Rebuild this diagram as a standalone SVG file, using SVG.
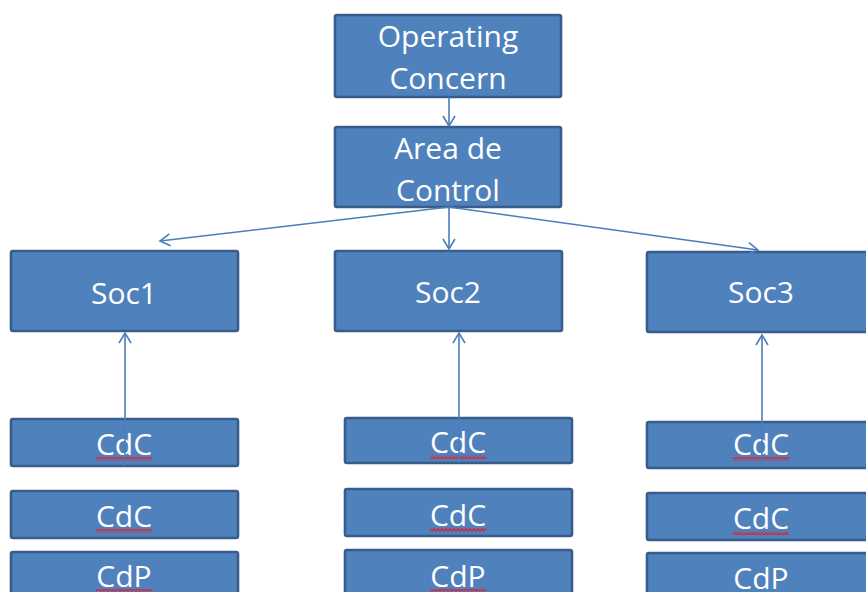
<svg xmlns="http://www.w3.org/2000/svg" width="866" height="592" viewBox="0 0 866 592">
  <style>
    .box { fill: #4F81BD; stroke: #385D8A; stroke-width: 2.6; }
    .lbl { fill: #FFFFFF; font-family: "Open Sans", "Liberation Sans", sans-serif; font-size: 30px; text-anchor: middle; }
    .link { fill: none; stroke: #4A7EBB; stroke-width: 1.6; marker-end: url(#arrow); }
    .squiggle { fill: url(#wave); }
  </style>
  <defs>
    <marker id="arrow" viewBox="-12 -7 14 14" refX="0" refY="0" markerWidth="14" markerHeight="14" markerUnits="userSpaceOnUse" orient="auto">
      <path d="M -10,-6 L 0,0 L -10,6" fill="none" stroke="#4A7EBB" stroke-width="1.6"/>
    </marker>
    <!-- red zigzag used as a spell-check underline -->
    <pattern id="wave" patternUnits="userSpaceOnUse" width="4" height="4">
      <path d="M0,3.2 L2,0.8 L4,3.2" fill="none" stroke="#D42A3E" stroke-width="1.5"/>
    </pattern>
  </defs>

  <rect width="866" height="592" fill="#FFFFFF"/>

  <!-- top of the hierarchy -->
  <g id="operating-concern">
    <rect class="box" x="335" y="15" width="226" height="82" rx="2"/>
    <text class="lbl" x="448" y="47">Operating</text>
    <text class="lbl" x="448" y="89">Concern</text>
  </g>
  <g id="area-de-control">
    <rect class="box" x="335" y="127" width="226" height="80" rx="2"/>
    <text class="lbl" x="448" y="159">Area de</text>
    <text class="lbl" x="448" y="201">Control</text>
  </g>

  <!-- company codes -->
  <g id="soc1">
    <rect class="box" x="11" y="251" width="227" height="80" rx="2"/>
    <text class="lbl" x="124" y="304">Soc1</text>
  </g>
  <g id="soc2">
    <rect class="box" x="335" y="251" width="227" height="80" rx="2"/>
    <text class="lbl" x="448" y="303">Soc2</text>
  </g>
  <g id="soc3">
    <rect class="box" x="647" y="252" width="228" height="80" rx="2"/>
    <text class="lbl" x="761" y="303">Soc3</text>
  </g>

  <!-- column 1 -->
  <g id="cdc-1a">
    <rect class="box" x="11" y="419" width="227" height="47" rx="2"/>
    <text class="lbl" x="124" y="455">CdC</text>
    <rect class="squiggle" x="96" y="457" width="56" height="4"/>
  </g>
  <g id="cdc-1b">
    <rect class="box" x="11" y="491" width="227" height="47" rx="2"/>
    <text class="lbl" x="124" y="527">CdC</text>
    <rect class="squiggle" x="96" y="529" width="56" height="4"/>
  </g>
  <g id="cdp-1">
    <rect class="box" x="11" y="552" width="227" height="47" rx="2"/>
    <text class="lbl" x="124" y="587">CdP</text>
    <rect class="squiggle" x="96" y="589" width="56" height="4"/>
  </g>

  <!-- column 2 -->
  <g id="cdc-2a">
    <rect class="box" x="345" y="418" width="227" height="45" rx="2"/>
    <text class="lbl" x="458" y="453">CdC</text>
    <rect class="squiggle" x="430" y="455" width="56" height="4"/>
  </g>
  <g id="cdc-2b">
    <rect class="box" x="345" y="489" width="227" height="47" rx="2"/>
    <text class="lbl" x="458" y="526">CdC</text>
    <rect class="squiggle" x="430" y="528" width="56" height="4"/>
  </g>
  <g id="cdp-2">
    <rect class="box" x="345" y="550" width="227" height="47" rx="2"/>
    <text class="lbl" x="458" y="587">CdP</text>
    <rect class="squiggle" x="430" y="589" width="56" height="4"/>
  </g>

  <!-- column 3 -->
  <g id="cdc-3a">
    <rect class="box" x="647" y="422" width="228" height="46" rx="2"/>
    <text class="lbl" x="761" y="455">CdC</text>
    <rect class="squiggle" x="733" y="457" width="56" height="4"/>
  </g>
  <g id="cdc-3b">
    <rect class="box" x="647" y="493" width="228" height="47" rx="2"/>
    <text class="lbl" x="761" y="529">CdC</text>
    <rect class="squiggle" x="733" y="531" width="56" height="4"/>
  </g>
  <g id="cdp-3">
    <rect class="box" x="647" y="553" width="228" height="47" rx="2"/>
    <text class="lbl" x="761" y="589">CdP</text>
  </g>

  <!-- connectors -->
  <g id="connectors">
    <line class="link" x1="449" y1="97" x2="449" y2="126"/>
    <line class="link" x1="449" y1="207" x2="449" y2="249"/>
    <line class="link" x1="449" y1="207" x2="160" y2="241"/>
    <line class="link" x1="449" y1="207" x2="758" y2="250"/>
    <line class="link" x1="125" y1="466" x2="125" y2="333"/>
    <line class="link" x1="459" y1="463" x2="459" y2="333"/>
    <line class="link" x1="762" y1="467" x2="762" y2="335"/>
  </g>
</svg>
